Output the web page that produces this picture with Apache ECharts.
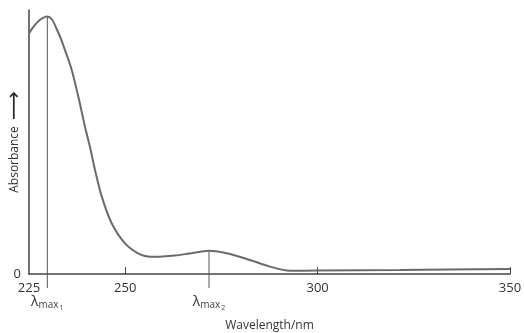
<!DOCTYPE html>
<html>
<head>
<meta charset="utf-8">
<script src="https://cdn.jsdelivr.net/npm/echarts@6/dist/echarts.min.js"></script>
<style>
  html, body { margin: 0; padding: 0; background: #fff; }
  #main { width: 524px; height: 333px; }
</style>
</head>
<body>
<div id="main"></div>
<script>
// spectrum (arbitrary absorbance units, 0..100)
var wavelength = [225.08, 226.04, 227.34, 228.51, 229.76, 230.98, 232.2, 233.32, 234.36, 236.1, 237.81, 239.55, 240.85, 242.15, 243.89, 246.49, 249.95, 253.85, 256.45, 259.04, 262.94, 266.84, 271.78, 277.24, 282.43, 287.63, 292.83, 299.84, 321.41, 350];
var absorbance = [91.3, 93.4, 95.6, 96.9, 97.5, 96.4, 92.8, 89.0, 84.8, 77.3, 67.2, 55.8, 48.1, 39.4, 29.4, 19.2, 11.6, 7.4, 6.55, 6.55, 7.0, 7.8, 8.8, 7.6, 5.3, 2.8, 1.25, 1.3, 1.5, 1.9];
// lambda max markers
var peakX = [229.76, 271.78];
var peakTop = [97.5, 8.8];
var peakName = ['1', '2'];
var markBottom = -5.3;
var xLabels = [225, 250, 300, 350];
var xTicks = [250, 300, 350];

var chartDom = document.getElementById('main');
var myChart = echarts.init(chartDom);
var option;

var font = 'Open Sans';

var spectrum = [];
for (var i = 0; i < wavelength.length; i++) spectrum.push([wavelength[i], absorbance[i]]);

var markerSeries = peakX.map(function (x, k) {
  return {
    type: 'line',
    clip: false,
    silent: true,
    symbol: 'none',
    lineStyle: { color: '#555', width: 1 },
    data: [
      [x, peakTop[k]],
      {
        value: [x, markBottom],
        symbol: 'circle',
        symbolSize: 0.1,
        label: {
          show: true,
          position: 'bottom',
          distance: 4,
          formatter: '{l|λ}{s|max}{ss|' + peakName[k] + '}',
          rich: {
            l: { fontFamily: font, fontSize: 14, color: '#333' },
            s: { fontFamily: font, fontSize: 10, color: '#444', padding: [8, 0, 0, 0] },
            ss: { fontFamily: font, fontSize: 7, color: '#444', padding: [12, 0, 0, 1] }
          }
        }
      }
    ],
    z: 1
  };
});

option = {
  animation: false,
  grid: { left: 29, right: 14, top: 10, bottom: 59, containLabel: false, outerBoundsMode: 'none' },
  xAxis: {
    type: 'value',
    min: 225,
    max: 350,
    interval: 25,
    name: 'Wavelength/nm',
    nameLocation: 'middle',
    nameGap: 46,
    nameMoveOverlap: false,
    nameTextStyle: { fontFamily: font, fontSize: 12, color: '#333' },
    axisLine: { lineStyle: { color: '#444', width: 1.5 } },
    axisTick: {
      show: true,
      inside: true,
      length: 7,
      customValues: xTicks,
      lineStyle: { color: '#444', width: 1 }
    },
    axisLabel: {
      customValues: xLabels,
      margin: 8,
      fontFamily: font,
      fontSize: 13,
      color: '#333'
    },
    splitLine: { show: false }
  },
  yAxis: {
    type: 'value',
    min: 0,
    max: 100,
    name: '{t|Absorbance}  {a|⟶}',
    nameLocation: 'middle',
    nameRotate: 90,
    nameGap: 7,
    nameMoveOverlap: false,
    nameTextStyle: {
      fontFamily: font,
      fontSize: 12,
      color: '#333',
      rich: {
        t: { fontFamily: font, fontSize: 12, color: '#333', lineHeight: 14 },
        a: { fontFamily: 'DejaVu Sans', fontSize: 20, color: '#222', lineHeight: 14 }
      }
    },
    axisLine: { show: true, lineStyle: { color: '#444', width: 1.5 } },
    axisTick: { show: false },
    axisLabel: {
      customValues: [0],
      margin: 8,
      fontFamily: font,
      fontSize: 13,
      color: '#333'
    },
    splitLine: { show: false }
  },
  series: [
    {
      type: 'line',
      data: spectrum,
      smooth: 0.3,
      symbol: 'none',
      lineStyle: { color: '#6a6a6a', width: 2 },
      z: 3
    }
  ].concat(markerSeries)
};
myChart.setOption(option);
</script>
</body>
</html>
